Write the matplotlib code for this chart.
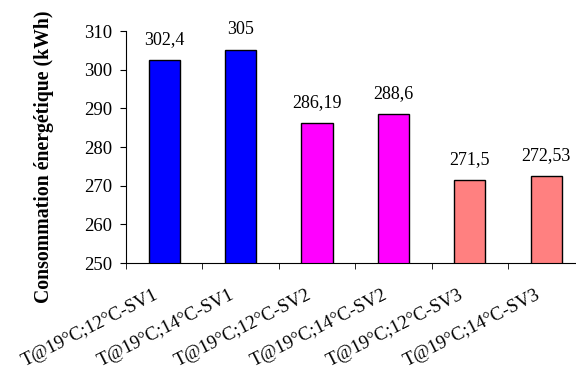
import numpy as np
import matplotlib
matplotlib.use("Agg")
import matplotlib.pyplot as plt
import matplotlib.transforms as mtransforms

# données
categories = ["T@19°C;12°C-SV1", "T@19°C;14°C-SV1",
              "T@19°C;12°C-SV2", "T@19°C;14°C-SV2",
              "T@19°C;12°C-SV3", "T@19°C;14°C-SV3"]
values = [302.4, 305, 286.19, 288.6, 271.5, 272.53]
value_labels = ["302,4", "305", "286,19", "288,6", "271,5", "272,53"]
bar_colors = ["#0000FF", "#0000FF", "#FF00FF", "#FF00FF", "#FF8080", "#FF8080"]

plt.rcParams['font.family'] = ['Liberation Serif', 'DejaVu Serif']

fig = plt.figure(figsize=(5.76, 3.81), dpi=100)
ax = fig.add_axes([126 / 576, 118 / 381, (576 - 126) / 576, 232 / 381])

x = np.arange(len(categories))
ax.bar(x, values, width=0.41, color=bar_colors, edgecolor="black", linewidth=1.0)

# valeurs au-dessus des barres
for xi, v, lab in zip(x, values, value_labels):
    ax.annotate(lab, (xi, v), xytext=(0, 11.5), textcoords="offset points",
                ha="center", va="baseline", fontsize=13)

ax.set_ylim(250, 310)
ax.set_xlim(-0.5, 5.39)
ax.set_yticks(np.arange(250, 311, 10))
ax.tick_params(axis="y", labelsize=13.5, direction="out", length=4, pad=6)

# étiquettes sur les catégories, graduations entre les catégories
ax.set_xticks(x)
ax.set_xticklabels(categories, rotation=27, ha="right", rotation_mode="anchor",
                   fontsize=13.5)
ax.tick_params(axis="x", which="major", length=0, pad=17)
shift = mtransforms.ScaledTranslation(-8 / 72, 0, fig.dpi_scale_trans)
for lbl in ax.get_xticklabels():
    lbl.set_transform(lbl.get_transform() + shift)
ax.set_xticks(np.arange(-0.5, 5.5, 1), minor=True)
ax.tick_params(axis="x", which="minor", length=4, direction="out")

ax.spines["top"].set_visible(False)
ax.spines["right"].set_visible(False)

ax.set_ylabel("Consommation énergétique (kWh)", fontsize=14.2, fontweight="bold")
ax.yaxis.set_label_coords(-0.16, 0.46)

fig.savefig("out.png", dpi=100)
